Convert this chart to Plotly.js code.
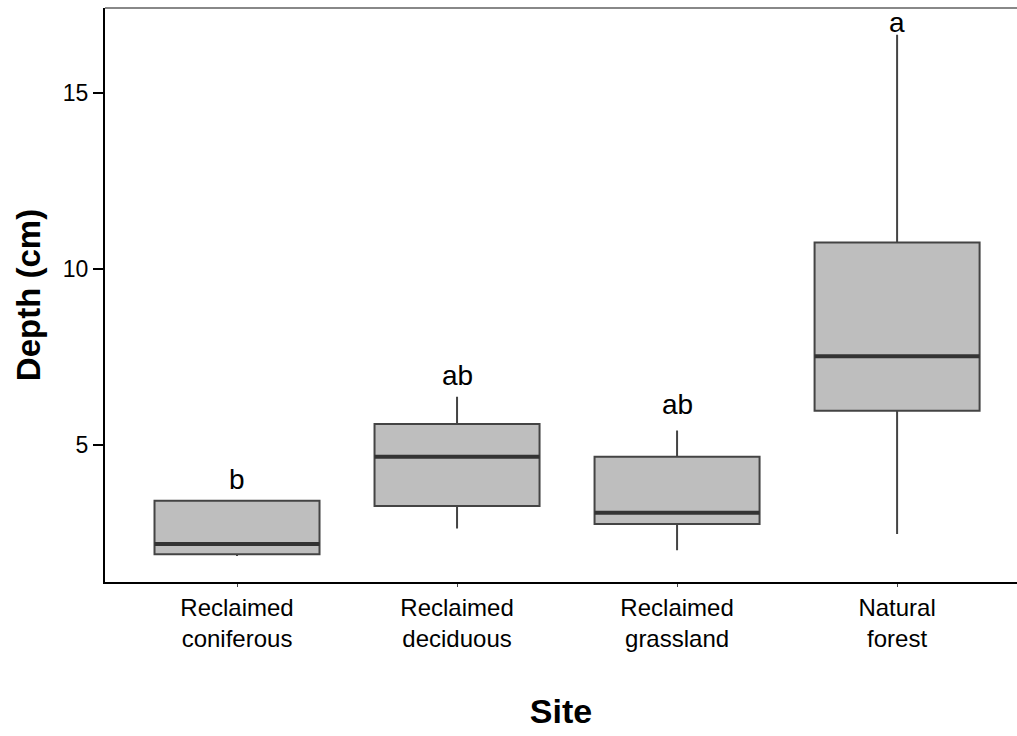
<!DOCTYPE html>
<html>
<head>
<meta charset="utf-8">
<script src="https://cdn.plot.ly/plotly-3.0.1.min.js"></script>
<style>html,body{margin:0;padding:0;background:#fff;}#chart{width:1017px;height:736px;}</style>
</head>
<body>
<div id="chart"></div>
<script>
// Data
var sites = ["Reclaimed<br>coniferous", "Reclaimed<br>deciduous", "Reclaimed<br>grassland", "Natural<br>forest"];
var lowerWhisker = [1.85, 2.63, 2.01, 2.47];
var q1Values     = [1.90, 3.27, 2.76, 5.97];
var medianValues = [2.19, 4.67, 3.08, 7.52];
var q3Values     = [3.42, 5.60, 4.67, 10.75];
var upperWhisker = [3.42, 6.37, 5.41, 16.65];
var groupLetters = ["b", "ab", "ab", "a"];
var letterY      = [4.01, 6.96, 6.16, 16.99];
var yTicks = [5, 10, 15];

var boxHalf = 0.375;
var font = "Liberation Sans, Arial, sans-serif";

var trace = {
  type: "box",
  x: sites,
  q1: q1Values,
  median: medianValues,
  q3: q3Values,
  lowerfence: lowerWhisker,
  upperfence: upperWhisker,
  width: boxHalf * 2,
  whiskerwidth: 0,
  fillcolor: "#bebebe",
  line: {color: "#444444", width: 2},
  boxpoints: false,
  hoverinfo: "skip",
  showlegend: false
};

var shapes = medianValues.map(function (m, i) {
  return {type: "line", xref: "x", yref: "y", x0: i - boxHalf, x1: i + boxHalf, y0: m, y1: m,
          line: {color: "#333333", width: 4}};
});
shapes.push({type: "line", xref: "paper", yref: "paper", x0: 0, x1: 1, y0: 1, y1: 1,
             line: {color: "#888888", width: 2}});

var annotations = groupLetters.map(function (t, i) {
  return {x: i, y: letterY[i], xref: "x", yref: "y", text: t, showarrow: false,
          yanchor: "middle", xanchor: "center", font: {family: font, size: 28, color: "#000"}};
});

var layout = {
  width: 1017, height: 736,
  margin: {l: 105, r: 0, t: 8, b: 154},
  paper_bgcolor: "#ffffff", plot_bgcolor: "#ffffff",
  xaxis: {
    type: "category",
    range: [-0.6, 3.545],
    showline: true, linecolor: "#000", linewidth: 2,
    ticks: "outside", ticklen: 3, tickwidth: 1, tickcolor: "#444",
    showgrid: false, zeroline: false,
    tickfont: {family: font, size: 24, color: "#000"},
    title: {text: "<b>Site</b>", font: {family: font, size: 34, color: "#000"}, standoff: 48}
  },
  yaxis: {
    range: [1.11, 17.41],
    tickvals: yTicks, ticktext: yTicks.map(String),
    showline: true, linecolor: "#000", linewidth: 2,
    ticks: "outside", ticklen: 10, tickwidth: 2, tickcolor: "#000",
    showgrid: false, zeroline: false,
    tickfont: {family: font, size: 23, color: "#000"},
    title: {text: "<b>Depth (cm)</b>", font: {family: font, size: 33, color: "#000"}, standoff: 12}
  },
  shapes: shapes,
  annotations: annotations
};

Plotly.newPlot("chart", [trace], layout, {displayModeBar: false, staticPlot: true});
</script>
</body>
</html>
